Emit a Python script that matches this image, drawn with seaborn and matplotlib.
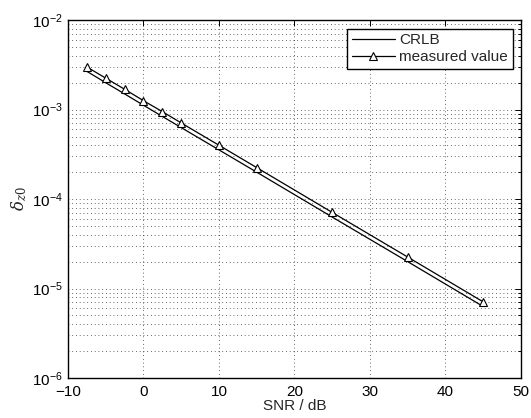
import matplotlib
matplotlib.use("Agg")
import matplotlib.pyplot as plt
import seaborn as sns
import pandas as pd
import numpy as np
from matplotlib.ticker import LogLocator, NullFormatter, MultipleLocator

snr = [-7.5, -5, -2.5, 0, 2.5, 5, 10, 15, 25, 35, 45]
measured = [3.0e-3, 2.25e-3, 1.69e-3, 1.26e-3, 9.5e-4, 7.1e-4, 4.0e-4, 2.25e-4, 7.1e-5, 2.25e-5, 7.1e-6]
crlb = [2.68e-3, 2.0e-3, 1.5e-3, 1.12e-3, 8.4e-4, 6.3e-4, 3.55e-4, 2.0e-4, 6.3e-5, 2.0e-5, 6.3e-6]

sns.set_theme(style="white")
plt.rcParams['font.family'] = ['Liberation Sans', 'DejaVu Sans']
plt.rcParams['mathtext.fontset'] = 'dejavuserif'

df = pd.DataFrame({"snr": snr, "CRLB": crlb, "measured value": measured})

fig = plt.figure(figsize=(5.31, 4.18), dpi=100)
ax = fig.add_axes([0.128, 0.0957, 0.853, 0.856])

sns.lineplot(data=df, x="snr", y="CRLB", ax=ax, color="black", lw=0.9, label="CRLB")
sns.lineplot(data=df, x="snr", y="measured value", ax=ax, color="black", lw=0.9,
             marker="^", markersize=5.5, markerfacecolor="white", markeredgecolor="black",
             markeredgewidth=0.8, label="measured value")

ax.set_yscale("log")
ax.set_xlim(-10, 50)
ax.set_ylim(1e-6, 1e-2)
ax.xaxis.set_major_locator(MultipleLocator(10))
ax.yaxis.set_major_locator(LogLocator(base=10, numticks=10))
ax.yaxis.set_minor_locator(LogLocator(base=10, subs=np.arange(2, 10), numticks=10))
ax.yaxis.set_minor_formatter(NullFormatter())

ax.grid(True, which="major", axis="both", linestyle=(0, (1, 3.5)), color="black", lw=0.6, alpha=0.8)
ax.grid(True, which="minor", axis="y", linestyle=(0, (1, 3.5)), color="black", lw=0.6, alpha=0.8)

ax.tick_params(axis="both", which="both", direction="in", top=True, right=True,
               labelsize=11, colors="black", length=4, width=0.7)
ax.tick_params(axis="x", which="major", pad=5)
ax.tick_params(which="minor", length=2.5)
for s in ax.spines.values():
    s.set_color("black")
    s.set_linewidth(1.0)

ax.set_xlabel("SNR / dB", fontsize=11, labelpad=0)
ax.set_ylabel(r"$\delta_{z0}$", fontsize=12, labelpad=2)

leg = ax.legend(loc="upper right", fontsize=11, frameon=True, fancybox=False,
                edgecolor="black", borderpad=0.3, handlelength=2.8, labelspacing=0.2,
                handletextpad=0.3, borderaxespad=0.55)
leg.get_frame().set_linewidth(1.0)
leg.get_frame().set_alpha(1)

fig.savefig("out.png", dpi=100)
